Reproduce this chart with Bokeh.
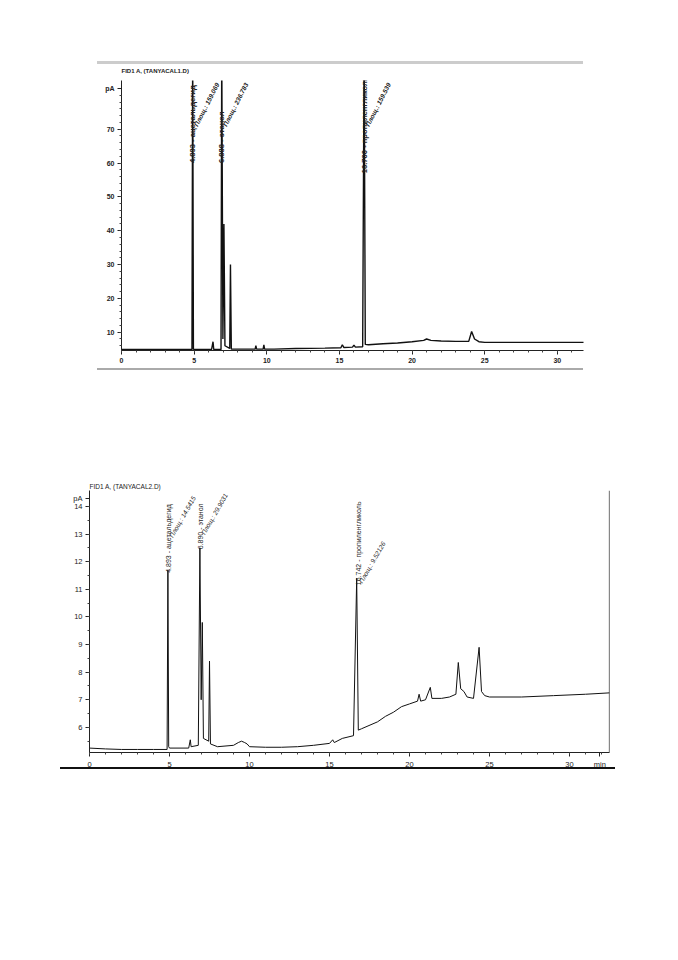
import math
from bokeh.plotting import figure
from bokeh.models import Range1d, Span, FixedTicker, ColumnDataSource, Div
from bokeh.core.properties import value
from bokeh.embed import file_html
from bokeh.resources import INLINE

FONT = "Liberation Sans"

# ---------------- data: chromatogram 1 (TANYACAL1.D) ----------------
t1 = [0.0, 4.85, 4.90, 4.95, 5.0, 6.2, 6.3, 6.35, 6.85, 6.90, 6.98, 7.05, 7.12,
      7.45, 7.50, 7.56, 9.2, 9.25, 9.3, 9.75, 9.8, 9.85, 10.5, 12.0, 14.0,
      15.1, 15.2, 15.3, 15.9, 16.0, 16.1, 16.6, 16.70, 16.78, 17.0, 18.0, 19.0,
      20.0, 20.8, 21.0, 21.3, 22.0, 23.0, 23.9, 24.1, 24.3, 24.6, 25.0, 27.0,
      30.0, 32.0]
s1 = [4.9, 4.9, 95.0, 5.0, 4.9, 4.9, 7.2, 4.9, 4.9, 95.0, 8.0, 42.0, 6.0,
      5.2, 30.0, 5.0, 5.0, 6.0, 5.0, 5.0, 6.3, 5.0, 5.0, 5.2, 5.3,
      5.4, 6.3, 5.5, 5.6, 6.2, 5.6, 5.7, 95.0, 6.4, 6.3, 6.6, 6.8,
      7.2, 7.6, 8.0, 7.6, 7.4, 7.3, 7.3, 10.2, 8.0, 7.2, 7.0, 7.0,
      7.0, 7.0]

# ---------------- data: chromatogram 2 (TANYACAL2.D) ----------------
t2 = [0.0, 1.0, 2.0, 3.0, 4.0, 4.85, 4.90, 4.95, 5.0, 6.2, 6.3, 6.35, 6.8,
      6.90, 6.98, 7.05, 7.12, 7.45, 7.50, 7.56, 8.0, 9.0, 9.3, 9.5, 9.7, 9.85,
      10.0, 11.0, 12.0, 13.0, 14.0, 15.0, 15.2, 15.3, 15.8, 16.5, 16.70, 16.8,
      17.0, 18.0, 18.5, 19.0, 19.5, 20.0, 20.5, 20.6, 20.7, 21.0, 21.3, 21.4,
      22.0, 22.5, 22.9, 23.05, 23.2, 23.4, 23.6, 24.0, 24.35, 24.5, 24.7, 25.0,
      27.0, 29.0, 31.0, 32.5]
s2 = [5.25, 5.22, 5.2, 5.2, 5.2, 5.2, 11.7, 5.3, 5.25, 5.25, 5.55, 5.3, 5.35,
      12.5, 7.0, 9.8, 5.6, 5.5, 8.4, 5.4, 5.3, 5.35, 5.45, 5.5, 5.45, 5.4,
      5.3, 5.28, 5.28, 5.3, 5.35, 5.42, 5.55, 5.45, 5.6, 5.7, 11.4, 5.9,
      5.95, 6.2, 6.4, 6.55, 6.75, 6.85, 6.95, 7.2, 6.95, 7.0, 7.45, 7.05,
      7.05, 7.1, 7.2, 8.35, 7.4, 7.3, 7.1, 7.05, 8.9, 7.3, 7.15, 7.1,
      7.1, 7.15, 7.2, 7.25]

# peak annotations
peak_t1 = [4.893, 6.888, 16.700]
peak_name1 = ["4.893 - ацетальдегид", "6.888 - этанол", "16.700 - пропиленгликоль"]
peak_area1 = ["Площ.: 159.069", "Площ.: 236.783", "Площ.: 159.539"]
name_y1 = [60.0, 60.0, 57.0]
area_y1 = [71.0, 71.0, 71.0]

peak_t2 = [4.893, 6.890, 16.742]
peak_name2 = ["4.893 - ацетальдегид", "6.890 - этанол", "16.742 - пропиленгликоль"]
peak_area2 = ["Площ.: 14.5415", "Площ.: 29.9031", "Площ.: 9.52126"]
name_y2 = [11.6, 12.45, 11.15]
area_y2 = [12.9, 13.0, 11.25]

x_ticks = [0, 5, 10, 15, 20, 25, 30]
y_ticks1 = [10, 20, 30, 40, 50, 60, 70]
y_ticks2 = [6, 7, 8, 9, 10, 11, 12, 13, 14]
title1 = "FID1 A, (TANYACAL1.D)"
title2 = "FID1 A, (TANYACAL2.D)"


def style_axes(p, fs, bold):
    for ax in (p.xaxis[0], p.yaxis[0]):
        ax.major_label_text_font = FONT
        ax.major_label_text_font_size = fs
        ax.major_label_text_font_style = "bold" if bold else "normal"
        ax.major_label_text_color = "#222222"
        ax.axis_line_color = "#222222"
        ax.major_tick_line_color = "#222222"
        ax.minor_tick_line_color = "#444444"
        ax.major_tick_in = 0
        ax.major_tick_out = 4
        ax.minor_tick_in = 0
        ax.minor_tick_out = 2
        ax.major_label_standoff = 3
    p.xgrid.visible = False
    p.ygrid.visible = False
    p.outline_line_color = None
    p.background_fill_color = "white"
    p.border_fill_color = None
    p.title.text_font = FONT
    p.title.text_color = "#222222"
    p.title.align = "left"


# ---------------- figure 1 ----------------
p1 = figure(frame_width=462, frame_height=270, output_backend="svg", toolbar_location=None,
            title=title1,
            x_range=Range1d(0, 31.8), y_range=Range1d(4.6, 84.4),
            min_border_left=121, min_border_right=95, min_border_top=26, min_border_bottom=17)
p1.xaxis.ticker = FixedTicker(ticks=x_ticks, minor_ticks=list(range(0, 32)))
p1.yaxis.ticker = FixedTicker(ticks=y_ticks1 + [82], minor_ticks=list(range(6, 82, 2)))
p1.yaxis.major_label_overrides = {82: "pA"}
style_axes(p1, "7px", True)
p1.title.text_font_size = "6px"
p1.title.text_font_style = "bold"
p1.title.standoff = 13
p1.line(t1, s1, line_color="#111111", line_width=1.4)
src1 = ColumnDataSource(dict(x=peak_t1, y=name_y1, t=peak_name1))
p1.text(x="x", y="y", text="t", source=src1, angle=math.pi / 2,
        text_font=value(FONT), text_font_size="7.6px", text_font_style="bold",
        text_align="left", text_baseline="middle", text_color="#222222")
src1b = ColumnDataSource(dict(x=peak_t1, y=area_y1, t=peak_area1))
p1.text(x="x", y="y", text="t", source=src1b, angle=math.radians(63),
        text_font=value(FONT), text_font_size="6.5px", text_font_style="bold italic",
        text_align="left", text_baseline="middle", text_color="#222222", x_offset=3)

# ---------------- figure 2 ----------------
p2 = figure(frame_width=520, frame_height=262, output_backend="svg", toolbar_location=None,
            title=title2,
            x_range=Range1d(0, 32.5), y_range=Range1d(5.09, 14.58),
            min_border_left=89, min_border_right=69, min_border_top=120, min_border_bottom=16)
p2.xaxis.ticker = FixedTicker(ticks=x_ticks + [31.9], minor_ticks=list(range(0, 33)))
p2.xaxis.major_label_overrides = {31.9: "min"}
p2.yaxis.ticker = FixedTicker(ticks=y_ticks2 + [14.3], minor_ticks=[v / 2 for v in range(11, 29)])
p2.yaxis.major_label_overrides = {14.3: "pA"}
style_axes(p2, "7.5px", False)
p2.title.text_font_size = "6.5px"
p2.title.text_font_style = "normal"
p2.title.standoff = 1
p2.line(t2, s2, line_color="#111111", line_width=1.0)
src2 = ColumnDataSource(dict(x=peak_t2, y=name_y2, t=peak_name2))
p2.text(x="x", y="y", text="t", source=src2, angle=math.pi / 2,
        text_font=value(FONT), text_font_size="7px",
        text_align="left", text_baseline="middle", text_color="#222222", x_offset=1)
src2b = ColumnDataSource(dict(x=peak_t2, y=area_y2, t=peak_area2))
p2.text(x="x", y="y", text="t", source=src2b, angle=math.radians(60),
        text_font=value(FONT), text_font_size="6.5px", text_font_style="italic",
        text_align="left", text_baseline="middle", text_color="#222222", x_offset=3)
p2.add_layout(Span(location=32.5, dimension="height", line_color="#111111", line_width=1.2))

# decorative scan borders
div_top = Div(text="", width=486, height=3, margin=(61, 0, -10, 97),
              styles={"background-color": "#cccccc"})
div_mid = Div(text="", width=486, height=2, margin=(1, 0, 0, 97),
              styles={"background-color": "#aaaaaa"})
div_bot = Div(text="", width=555, height=2, margin=(-4, 0, 0, 60),
              styles={"background-color": "#111111"})

open("out.html", "w").write(file_html([div_top, p1, div_mid, p2, div_bot], INLINE))
